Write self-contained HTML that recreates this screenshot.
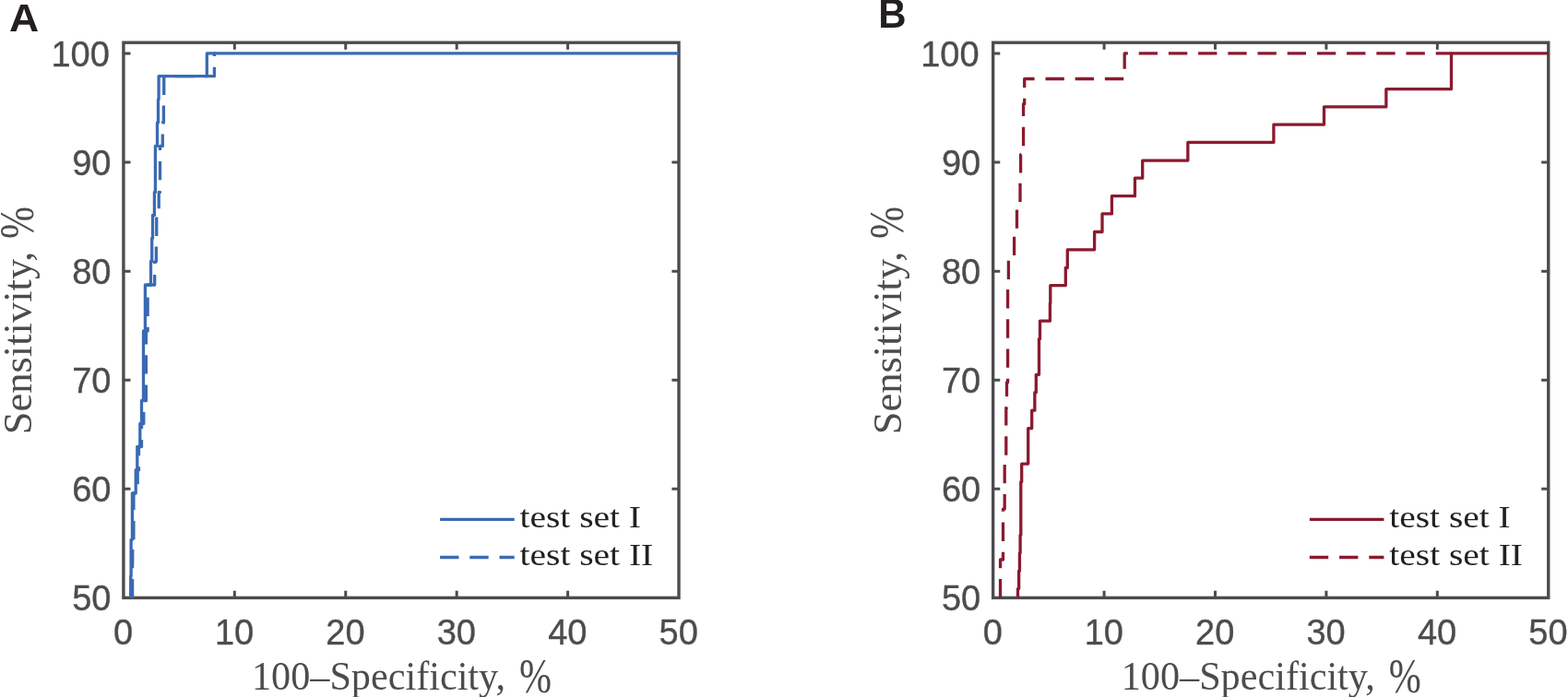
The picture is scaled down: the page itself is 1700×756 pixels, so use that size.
<!DOCTYPE html>
<html lang="en">
<head>
<meta charset="utf-8">
<title>ROC curves: sensitivity vs 100–specificity</title>
<style>
html,body{margin:0;padding:0;background:#fff;}
body{width:1700px;height:756px;overflow:hidden;}
svg{display:block;}
text{white-space:pre;}
</style>
</head>
<body>
<svg width="1700" height="756" viewBox="0 0 1700 756">
<rect x="0" y="0" width="1700" height="756" fill="#ffffff"/>
<!-- Panel A -->
<g id="panelA">
<rect x="133.90" y="46.20" width="602.10" height="602.20" fill="none" stroke="#4c4c4e" stroke-width="3.4"/>
<path d="M254.32,648.40v-7.6 M254.32,46.20v7.6 M374.74,648.40v-7.6 M374.74,46.20v7.6 M495.16,648.40v-7.6 M495.16,46.20v7.6 M615.58,648.40v-7.6 M615.58,46.20v7.6 M133.90,530.31h7.6 M736.00,530.31h-7.6 M133.90,412.22h7.6 M736.00,412.22h-7.6 M133.90,294.13h7.6 M736.00,294.13h-7.6 M133.90,176.04h7.6 M736.00,176.04h-7.6 M133.90,57.95h7.6" fill="none" stroke="#4c4c4e" stroke-width="3"/>
<g font-family="'Liberation Sans', sans-serif" font-size="38" fill="#4c4c4e" stroke="#4c4c4e" stroke-width="0.35">
<text x="133.60" y="698.5" text-anchor="middle">0</text>
<text x="254.02" y="698.5" text-anchor="middle">10</text>
<text x="374.44" y="698.5" text-anchor="middle">20</text>
<text x="494.86" y="698.5" text-anchor="middle">30</text>
<text x="615.28" y="698.5" text-anchor="middle">40</text>
<text x="735.70" y="698.5" text-anchor="middle">50</text>
<text x="120.50" y="662.20" text-anchor="end">50</text>
<text x="120.50" y="544.11" text-anchor="end">60</text>
<text x="120.50" y="426.02" text-anchor="end">70</text>
<text x="120.50" y="307.93" text-anchor="end">80</text>
<text x="120.50" y="189.84" text-anchor="end">90</text>
<text x="118.90" y="71.75" text-anchor="end">100</text>
</g>
<clipPath id="clipA"><rect x="133.90" y="46.20" width="602.10" height="603.00"/></clipPath>
<g clip-path="url(#clipA)" fill="none" stroke="#3a6ab3" stroke-width="3.3" stroke-linejoin="round">
<path d="M143.60,648.40 L143.60,610.60 L143.75,610.60 L143.75,585.50 L144.90,585.50 L144.90,535.00 L149.20,535.00 L149.20,509.70 L150.50,509.70 L150.50,484.50 L153.50,484.50 L153.50,459.50 L155.80,459.50 L155.80,434.70 L158.40,434.70 L158.40,359.00 L160.10,359.00 L160.10,309.00 L167.70,309.00 L167.70,283.80 L169.35,283.80 L169.35,258.50 L169.75,258.50 L169.75,233.50 L172.20,233.50 L172.20,208.40 L173.50,208.40 L173.50,158.40 L176.30,158.40 L176.30,133.00 L177.40,133.00 L177.40,107.80 L177.75,107.80 L177.75,82.70 L232.40,82.70 L232.40,57.95 L233.40,57.95" stroke-dasharray="20.35 11.85"/>
<path d="M141.70,648.40 L141.70,625.00 L142.10,625.00 L142.10,585.30 L143.40,585.30 L143.40,535.00 L147.20,535.00 L147.20,509.70 L148.80,509.70 L148.80,484.50 L151.80,484.50 L151.80,459.50 L153.50,459.50 L153.50,434.50 L155.50,434.50 L155.50,359.00 L157.40,359.00 L157.40,309.00 L163.50,309.00 L163.50,283.50 L164.70,283.50 L164.70,258.50 L165.50,258.50 L165.50,233.50 L167.40,233.50 L167.40,208.50 L168.40,208.50 L168.40,158.40 L170.50,158.40 L170.50,133.00 L171.50,133.00 L171.50,107.80 L172.10,107.80 L172.10,82.70 L224.30,82.70 L224.30,57.95 L736.00,57.95"/>
</g>
<path d="M477.10,563.4H557.70" stroke="#3a6ab3" stroke-width="3.3" fill="none"/>
<path d="M477.10,604.5H557.70" stroke="#3a6ab3" stroke-width="3.3" stroke-dasharray="20.35 11.85" fill="none"/>
<g font-family="'Liberation Serif', serif" font-size="34" fill="#231f20">
<text x="563.60" y="571.7" textLength="131.3" lengthAdjust="spacingAndGlyphs">test set I</text>
<text x="563.60" y="612.7" textLength="144.6" lengthAdjust="spacingAndGlyphs">test set II</text>
</g>
<text transform="translate(10.10,34.45) scale(1.03,1)" font-family="'Liberation Sans', sans-serif" font-weight="bold" font-size="43.3" fill="#231f20">A</text>
<g font-family="'Liberation Serif', serif" fill="#4c4c4e" font-size="44">
<text y="747.8"><tspan x="273.00" textLength="275.0" lengthAdjust="spacingAndGlyphs">100–Specificity,</tspan><tspan x="552.60" dy="3.0" font-size="53" textLength="45.5" lengthAdjust="spacingAndGlyphs"> %</tspan></text>
<text transform="translate(33.80,0) rotate(-90)" y="0"><tspan x="-471.3" textLength="198.8" lengthAdjust="spacingAndGlyphs">Sensitivity,</tspan><tspan x="-269.4" dy="2.2" font-size="53" textLength="45.5" lengthAdjust="spacingAndGlyphs"> %</tspan></text>
</g>
</g>
<!-- Panel B -->
<g id="panelB">
<rect x="1076.65" y="46.20" width="602.10" height="602.20" fill="none" stroke="#4c4c4e" stroke-width="3.4"/>
<path d="M1197.07,648.40v-7.6 M1197.07,46.20v7.6 M1317.49,648.40v-7.6 M1317.49,46.20v7.6 M1437.91,648.40v-7.6 M1437.91,46.20v7.6 M1558.33,648.40v-7.6 M1558.33,46.20v7.6 M1076.65,530.31h7.6 M1678.75,530.31h-7.6 M1076.65,412.22h7.6 M1678.75,412.22h-7.6 M1076.65,294.13h7.6 M1678.75,294.13h-7.6 M1076.65,176.04h7.6 M1678.75,176.04h-7.6 M1076.65,57.95h7.6" fill="none" stroke="#4c4c4e" stroke-width="3"/>
<g font-family="'Liberation Sans', sans-serif" font-size="38" fill="#4c4c4e" stroke="#4c4c4e" stroke-width="0.35">
<text x="1076.35" y="698.5" text-anchor="middle">0</text>
<text x="1196.77" y="698.5" text-anchor="middle">10</text>
<text x="1317.19" y="698.5" text-anchor="middle">20</text>
<text x="1437.61" y="698.5" text-anchor="middle">30</text>
<text x="1558.03" y="698.5" text-anchor="middle">40</text>
<text x="1678.45" y="698.5" text-anchor="middle">50</text>
<text x="1063.25" y="662.20" text-anchor="end">50</text>
<text x="1063.25" y="544.11" text-anchor="end">60</text>
<text x="1063.25" y="426.02" text-anchor="end">70</text>
<text x="1063.25" y="307.93" text-anchor="end">80</text>
<text x="1063.25" y="189.84" text-anchor="end">90</text>
<text x="1061.65" y="71.75" text-anchor="end">100</text>
</g>
<clipPath id="clipB"><rect x="1076.65" y="46.20" width="602.10" height="603.00"/></clipPath>
<g clip-path="url(#clipB)" fill="none" stroke="#8a1a2f" stroke-width="3.3" stroke-linejoin="round">
<path d="M1084.55,648.40 L1084.55,607.00 L1087.50,607.00 L1087.50,552.10 L1089.20,552.10 L1089.20,497.20 L1090.80,497.20 L1090.80,442.30 L1091.50,442.30 L1091.50,414.80 L1092.60,414.80 L1092.60,305.00 L1093.40,305.00 L1093.40,277.50 L1099.60,277.50 L1099.60,250.00 L1102.50,250.00 L1102.50,222.60 L1106.00,222.60 L1106.00,195.10 L1106.60,195.10 L1106.60,167.60 L1109.55,167.60 L1109.55,112.70 L1110.70,112.70 L1110.70,85.50 L1219.20,85.50 L1219.20,57.95 L1573.50,57.95" stroke-dasharray="20.35 11.85"/>
<path d="M1103.50,648.40 L1103.50,638.60 L1104.65,638.60 L1104.65,619.20 L1105.45,619.20 L1105.45,599.90 L1106.10,599.90 L1106.10,580.50 L1106.80,580.50 L1106.80,522.70 L1107.70,522.70 L1107.70,503.10 L1114.70,503.10 L1114.70,464.60 L1118.70,464.60 L1118.70,445.20 L1121.85,445.20 L1121.85,425.70 L1123.30,425.70 L1123.30,406.30 L1126.50,406.30 L1126.50,367.50 L1127.50,367.50 L1127.50,348.20 L1138.40,348.20 L1138.40,329.00 L1138.80,329.00 L1138.80,309.60 L1155.30,309.60 L1155.30,290.50 L1157.30,290.50 L1157.30,270.80 L1186.60,270.80 L1186.60,251.50 L1195.00,251.50 L1195.00,231.90 L1205.40,231.90 L1205.40,212.70 L1230.45,212.70 L1230.45,193.20 L1238.70,193.20 L1238.70,174.10 L1287.85,174.10 L1287.85,154.40 L1380.90,154.40 L1380.90,135.10 L1435.50,135.10 L1435.50,115.90 L1502.85,115.90 L1502.85,96.60 L1573.50,96.60 L1573.50,57.95 L1678.75,57.95"/>
</g>
<path d="M1419.85,563.4H1500.45" stroke="#8a1a2f" stroke-width="3.3" fill="none"/>
<path d="M1419.85,604.5H1500.45" stroke="#8a1a2f" stroke-width="3.3" stroke-dasharray="20.35 11.85" fill="none"/>
<g font-family="'Liberation Serif', serif" font-size="34" fill="#231f20">
<text x="1506.35" y="571.7" textLength="131.3" lengthAdjust="spacingAndGlyphs">test set I</text>
<text x="1506.35" y="612.7" textLength="144.6" lengthAdjust="spacingAndGlyphs">test set II</text>
</g>
<text transform="translate(952.20,29.80) scale(0.962,1)" font-family="'Liberation Sans', sans-serif" font-weight="bold" font-size="43.6" fill="#231f20">B</text>
<g font-family="'Liberation Serif', serif" fill="#4c4c4e" font-size="44">
<text y="747.8"><tspan x="1215.75" textLength="275.0" lengthAdjust="spacingAndGlyphs">100–Specificity,</tspan><tspan x="1495.35" dy="3.0" font-size="53" textLength="45.5" lengthAdjust="spacingAndGlyphs"> %</tspan></text>
<text transform="translate(976.55,0) rotate(-90)" y="0"><tspan x="-471.3" textLength="198.8" lengthAdjust="spacingAndGlyphs">Sensitivity,</tspan><tspan x="-269.4" dy="2.2" font-size="53" textLength="45.5" lengthAdjust="spacingAndGlyphs"> %</tspan></text>
</g>
</g>
</svg>
</body>
</html>
